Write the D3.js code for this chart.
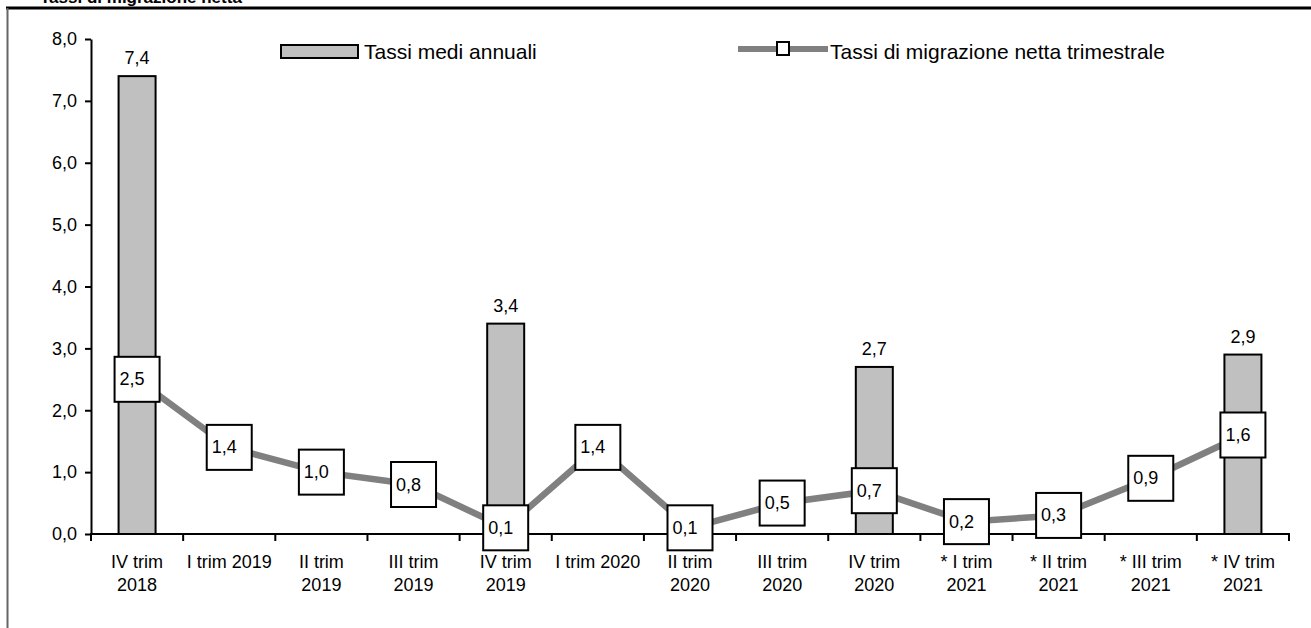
<!DOCTYPE html>
<html><head><meta charset="utf-8">
<script src="https://cdn.jsdelivr.net/npm/d3@7"></script>
<style>body{margin:0;background:#fff}svg{display:block;font-family:"Liberation Sans",Arial,sans-serif}</style>
</head><body>
<svg id="c" width="1311" height="628"></svg>
<script>
const categories = [["IV trim","2018"],["I trim 2019"],["II trim","2019"],["III trim","2019"],["IV trim","2019"],["I trim 2020"],["II trim","2020"],["III trim","2020"],["IV trim","2020"],["* I trim","2021"],["* II trim","2021"],["* III trim","2021"],["* IV trim","2021"]];
const annualRates = [7.4,null,null,null,3.4,null,null,null,2.7,null,null,null,2.9];
const quarterlyRates = [2.5,1.4,1.0,0.8,0.1,1.4,0.1,0.5,0.7,0.2,0.3,0.9,1.6];
const yTicks = [0,1,2,3,4,5,6,7,8];
const seriesNames = ["Tassi medi annuali","Tassi di migrazione netta trimestrale"];
const title = "Tassi di migrazione netta";

const svg = d3.select("#c");
const fmt = v => d3.format(".1f")(v).replace(".", ",");
const x = d3.scaleBand().domain(d3.range(categories.length)).range([91,1289]).paddingInner(0);
const y = d3.scaleLinear().domain([0,8]).range([534,39]);
const FS = 18;

// frame
svg.append("text").attr("x",40).attr("y",3).attr("font-size",17).attr("font-weight","bold").text(title);
svg.append("line").attr("x1",6).attr("x2",1311).attr("y1",8).attr("y2",8).attr("stroke","#000").attr("stroke-width",3);
svg.append("line").attr("x1",7.5).attr("x2",7.5).attr("y1",8).attr("y2",628).attr("stroke","#666").attr("stroke-width",2);

// bars
const bw = 37;
const barData = annualRates.map((v,i)=>({v,i})).filter(d=>d.v!=null);
svg.selectAll("rect.bar").data(barData).join("rect")
  .attr("x",d=>x(d.i)+x.bandwidth()/2-bw/2).attr("width",bw)
  .attr("y",d=>y(d.v)).attr("height",d=>y(0)-y(d.v))
  .attr("fill","#c0c0c0").attr("stroke","#000").attr("stroke-width",2);
svg.selectAll("text.bl").data(barData).join("text")
  .attr("x",d=>x(d.i)+x.bandwidth()/2).attr("y",d=>y(d.v)-12)
  .attr("text-anchor","middle").attr("font-size",FS).text(d=>fmt(d.v));

// axes
const yAxis = svg.append("g").attr("transform","translate(91,0)")
  .call(d3.axisLeft(y).tickValues(yTicks).tickFormat(fmt).tickSize(6).tickSizeOuter(0));
yAxis.select(".domain").attr("stroke-width",2);
yAxis.selectAll(".tick line").attr("stroke-width",2);
yAxis.selectAll("text").attr("font-size",FS).attr("font-family","Liberation Sans, Arial").attr("fill","#000").attr("dx",-5);

const xg = svg.append("g");
xg.append("line").attr("x1",90).attr("x2",1290).attr("y1",y(0)).attr("y2",y(0)).attr("stroke","#000").attr("stroke-width",2);
xg.selectAll("line.t").data(d3.range(categories.length+1)).join("line")
  .attr("x1",i=>91+i*x.step()).attr("x2",i=>91+i*x.step())
  .attr("y1",y(0)).attr("y2",y(0)+7).attr("stroke","#000").attr("stroke-width",2);
xg.selectAll("text.xl").data(categories).join("text")
  .attr("x",(d,i)=>x(i)+x.bandwidth()/2).attr("y",568)
  .attr("text-anchor","middle").attr("font-size",FS)
  .each(function(d){
    const t=d3.select(this);
    d.forEach((s,k)=>t.append("tspan").attr("x",t.attr("x")).attr("dy",k?23:0).text(s));
  });

// line
const cx = i => x(i)+x.bandwidth()/2;
svg.append("path").datum(quarterlyRates)
  .attr("d",d3.line().x((d,i)=>cx(i)).y(d=>y(d)))
  .attr("fill","none").attr("stroke","#808080").attr("stroke-width",6.5);
const ms = 45;
svg.selectAll("rect.m").data(quarterlyRates).join("rect")
  .attr("x",(d,i)=>cx(i)-ms/2).attr("y",d=>y(d)-ms/2).attr("width",ms).attr("height",ms)
  .attr("fill","#fff").attr("stroke","#000").attr("stroke-width",2);
svg.selectAll("text.ml").data(quarterlyRates).join("text")
  .attr("x",(d,i)=>cx(i)-5).attr("y",d=>y(d)+6)
  .attr("text-anchor","middle").attr("font-size",FS).text(d=>fmt(d));

// legend
svg.append("rect").attr("x",281).attr("y",45).attr("width",77).attr("height",13).attr("fill","#c0c0c0").attr("stroke","#000").attr("stroke-width",2);
svg.append("text").attr("x",364).attr("y",59).attr("font-size",21).text(seriesNames[0]);
svg.append("line").attr("x1",738).attr("x2",828).attr("y1",49).attr("y2",49).attr("stroke","#808080").attr("stroke-width",6);
svg.append("rect").attr("x",777).attr("y",42).attr("width",12).attr("height",13).attr("fill","#fff").attr("stroke","#000").attr("stroke-width",2);
svg.append("text").attr("x",830).attr("y",59).attr("font-size",21).text(seriesNames[1]);
</script>
</body></html>
